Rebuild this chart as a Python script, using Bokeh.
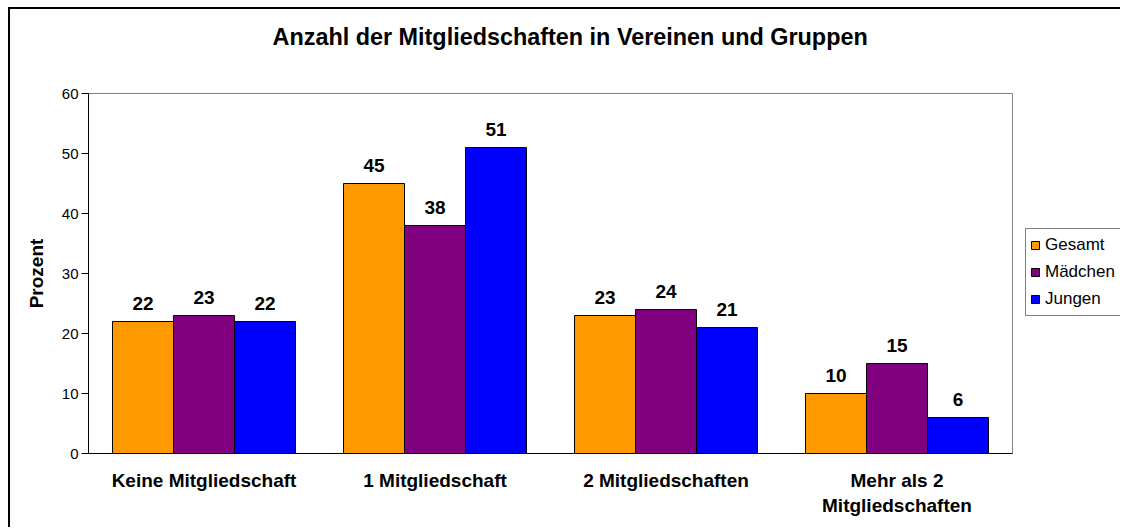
from bokeh.plotting import figure
from bokeh.models import (ColumnDataSource, FactorRange, Legend, LegendItem, LabelSet,
                          FixedTicker, Title)
from bokeh.layouts import row
from bokeh.core.properties import value
from bokeh.transform import dodge
from bokeh.embed import file_html
from bokeh.resources import INLINE

categories = ["Keine Mitgliedschaft", "1 Mitgliedschaft", "2 Mitgliedschaften",
              "Mehr als 2\nMitgliedschaften"]
series_names = ["Gesamt", "Mädchen", "Jungen"]
gesamt = [22, 45, 23, 10]
maedchen = [23, 38, 24, 15]
jungen = [22, 51, 21, 6]
colors = ["#FF9900", "#800080", "#0000FF"]
y_ticks = [0, 10, 20, 30, 40, 50, 60]
title_text = "Anzahl der Mitgliedschaften in Vereinen und Gruppen"

FONT = "Liberation Sans"

src = ColumnDataSource(dict(cat=categories, Gesamt=gesamt, Maedchen=maedchen, Jungen=jungen))
cols = ["Gesamt", "Maedchen", "Jungen"]

# ---------------- main chart ----------------
p = figure(width=1010, height=518, output_backend="svg", toolbar_location=None,
           x_range=FactorRange(*categories, range_padding=0), y_range=(0, 60),
           min_border_left=78, min_border_right=8, min_border_top=84, min_border_bottom=74)

spacer = Title(text=" ", text_font=FONT, text_font_size="23.4px", standoff=14,
               vertical_align="top")
main_title = Title(text=title_text, text_font=FONT, text_font_style="bold",
                   text_font_size="23.4px", text_color="black", align="left",
                   offset=184, standoff=0, vertical_align="top")
p.add_layout(spacer, "above")
p.add_layout(main_title, "above")

bw = 0.264
offsets = [-bw, 0, bw]
renderers = []
for col, off, c in zip(cols, offsets, colors):
    r = p.vbar(x=dodge("cat", off, range=p.x_range), top=col, width=bw, source=src,
               fill_color=c, line_color="black", line_width=1)
    renderers.append(r)
    lab = LabelSet(x=dodge("cat", off, range=p.x_range), y=col, text=col, source=src,
                   text_align="center", text_baseline="alphabetic", y_offset=12,
                   text_font=value(FONT), text_font_style="bold", text_font_size="19px",
                   text_color="black")
    p.add_layout(lab)

p.xgrid.visible = False
p.ygrid.visible = False
p.outline_line_color = "#808080"
p.outline_line_width = 1

p.yaxis.ticker = FixedTicker(ticks=y_ticks)
p.yaxis.major_label_text_font = FONT
p.yaxis.major_label_text_font_size = "15px"
p.yaxis.major_label_text_color = "black"
p.yaxis.axis_line_color = "black"
p.yaxis.major_tick_line_color = "black"
p.yaxis.major_tick_out = 7
p.yaxis.major_tick_in = 0
p.yaxis.major_label_standoff = 3
p.yaxis.minor_tick_line_color = None
p.yaxis.axis_label = "Prozent"
p.yaxis.axis_label_text_font = FONT
p.yaxis.axis_label_text_font_style = "bold"
p.yaxis.axis_label_text_font_size = "19px"
p.yaxis.axis_label_text_color = "black"
p.yaxis.axis_label_standoff = 12

p.xaxis.major_label_text_font = FONT
p.xaxis.major_label_text_font_style = "bold"
p.xaxis.major_label_text_font_size = "19px"
p.xaxis.major_label_text_color = "black"
p.xaxis.major_tick_line_color = None
p.xaxis.axis_line_color = "black"
p.xaxis.major_label_standoff = 10

# ---------------- legend panel ----------------
q = figure(width=100, height=518, output_backend="svg", toolbar_location=None,
           x_range=FactorRange("-"), y_range=(0, 60),
           min_border_left=0, min_border_right=0, min_border_top=0, min_border_bottom=0)
q.axis.visible = False
q.grid.visible = False
q.outline_line_color = None
leg_renderers = []
for col, c in zip(cols, colors):
    # legend swatches only: categories are not in this panel's range, so no bars are drawn
    r = q.vbar(x="cat", top=col, width=0.2, source=src, fill_color=c,
               line_color="black", line_width=1)
    leg_renderers.append(r)

legend = Legend(items=[LegendItem(label=n, renderers=[r]) for n, r in zip(series_names, leg_renderers)],
                location=(5, 137), orientation="vertical")
legend.label_text_font = FONT
legend.label_text_font_size = "17px"
legend.label_text_color = "black"
legend.glyph_width = 10
legend.glyph_height = 10
legend.label_height = 24
legend.label_width = 80
legend.spacing = 3
legend.padding = 4
legend.margin = 0
legend.label_standoff = 5
legend.border_line_color = "black"
legend.border_line_width = 1
legend.background_fill_color = "white"
q.add_layout(legend, "center")

layout = row(p, q, styles={"margin-left": "8px", "margin-top": "7px",
                           "border-left": "2px solid black", "border-top": "2px solid black"})

open("out.html", "w").write(file_html(layout, INLINE))
